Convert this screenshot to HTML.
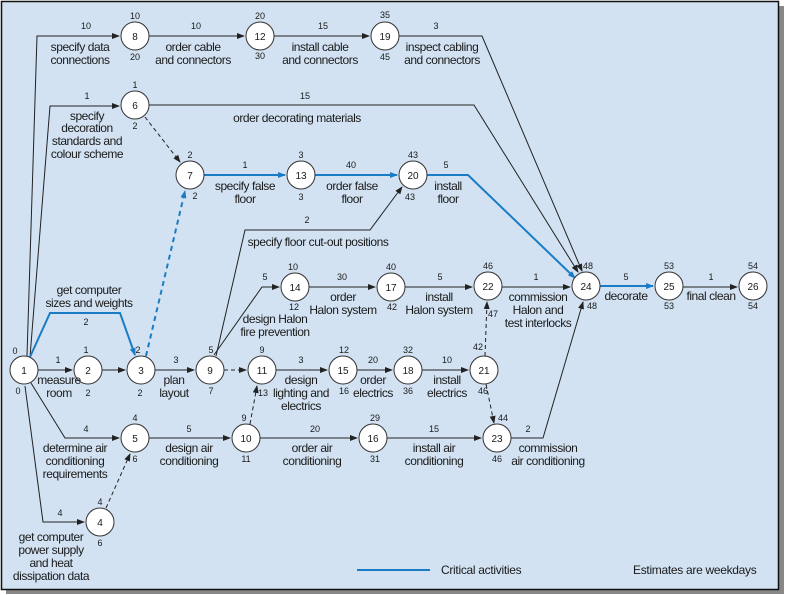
<!DOCTYPE html>
<html><head><meta charset="utf-8"><style>
body{margin:0;background:#fff;}
svg{display:block;font-family:"Liberation Sans",Arial,sans-serif;}
.l{font-size:12px;fill:#1a1a1a;text-anchor:middle;letter-spacing:-0.45px;}
.n{font-size:9px;fill:#1a1a1a;text-anchor:middle;}
.c{font-size:10px;fill:#1a1a1a;text-anchor:middle;}
</style></head><body>
<svg width="786" height="595" viewBox="0 0 786 595">
<defs>
<marker id="a" markerWidth="8" markerHeight="6" refX="7" refY="3" orient="auto" markerUnits="userSpaceOnUse"><path d="M0,0L8,3L0,6z" fill="#222"/></marker>
<marker id="b" markerWidth="8" markerHeight="6" refX="7" refY="3" orient="auto" markerUnits="userSpaceOnUse"><path d="M0,0L8,3L0,6z" fill="#1a7cc4"/></marker>
</defs>
<rect x="6" y="6" width="778" height="588" fill="#888"/>
<rect x="1.5" y="1.5" width="777" height="588" fill="#d2e2f2" stroke="#111" stroke-width="1.5"/>
<g fill="none" stroke="#222" stroke-width="1">
<polyline points="27,356 37,36 119,36" marker-end="url(#a)"/>
<polyline points="30,357 50,106 119,106" marker-end="url(#a)"/>
<polyline points="31,383 65,438 119,438" marker-end="url(#a)"/>
<polyline points="25,386 43,522 84,522" marker-end="url(#a)"/>
<line x1="38" y1="370" x2="72" y2="370" marker-end="url(#a)"/>
<line x1="102" y1="370" x2="125" y2="370" marker-end="url(#a)"/>
<line x1="155" y1="370" x2="194" y2="370" marker-end="url(#a)"/>
<line x1="149" y1="36" x2="244" y2="36" marker-end="url(#a)"/>
<line x1="274" y1="36" x2="369" y2="36" marker-end="url(#a)"/>
<polyline points="399,36 482,36 582,271" marker-end="url(#a)"/>
<polyline points="149,105 474,105 578,272" marker-end="url(#a)"/>
<polyline points="216,356 245,230 370,230 402,187" marker-end="url(#a)"/>
<polyline points="214,355 262,287 279,287" marker-end="url(#a)"/>
<line x1="309" y1="287" x2="375" y2="287" marker-end="url(#a)"/>
<line x1="405" y1="287" x2="472" y2="287" marker-end="url(#a)"/>
<line x1="502" y1="287" x2="570" y2="287" marker-end="url(#a)"/>
<line x1="683" y1="287" x2="737" y2="287" marker-end="url(#a)"/>
<line x1="276" y1="370" x2="327" y2="370" marker-end="url(#a)"/>
<line x1="357" y1="370" x2="392" y2="370" marker-end="url(#a)"/>
<line x1="422" y1="370" x2="468" y2="370" marker-end="url(#a)"/>
<line x1="149" y1="438" x2="230" y2="438" marker-end="url(#a)"/>
<line x1="260" y1="438" x2="357" y2="438" marker-end="url(#a)"/>
<line x1="387" y1="438" x2="481" y2="438" marker-end="url(#a)"/>
<polyline points="511,438 543,438 583,302" marker-end="url(#a)"/>
<g stroke-dasharray="4,3">
<line x1="145" y1="117" x2="180" y2="162" marker-end="url(#a)"/>
<line x1="224" y1="370" x2="246" y2="370" marker-end="url(#a)"/>
<line x1="250" y1="424" x2="257" y2="386" marker-end="url(#a)"/>
<line x1="106" y1="508" x2="130" y2="454" marker-end="url(#a)"/>
<line x1="485" y1="356" x2="487" y2="302" marker-end="url(#a)"/>
<line x1="486" y1="384" x2="494" y2="423" marker-end="url(#a)"/>
</g>
</g>
<g fill="none" stroke="#1a7cc4" stroke-width="2">
<polyline points="30,357 50,313 120,313 135,355" marker-end="url(#b)"/>
<line x1="204" y1="175" x2="285" y2="175" marker-end="url(#b)"/>
<line x1="315" y1="175" x2="397" y2="175" marker-end="url(#b)"/>
<polyline points="427,175 468,175 575,278" marker-end="url(#b)"/>
<line x1="600" y1="286" x2="653" y2="286" marker-end="url(#b)"/>
<line x1="146" y1="356" x2="185" y2="191" stroke-dasharray="5,4" marker-end="url(#b)"/>
<line x1="357" y1="570" x2="430" y2="570"/>
</g>
<g fill="#fff" stroke="#333" stroke-width="1">
<circle cx="24" cy="370" r="14"/><circle cx="88" cy="370" r="14"/><circle cx="141" cy="370" r="14"/>
<circle cx="210" cy="370" r="14"/><circle cx="262" cy="370" r="14"/><circle cx="343" cy="370" r="14"/>
<circle cx="408" cy="370" r="14"/><circle cx="484" cy="370" r="14"/>
<circle cx="135" cy="36" r="14"/><circle cx="260" cy="36" r="14"/><circle cx="385" cy="36" r="14"/>
<circle cx="135" cy="105" r="14"/><circle cx="190" cy="175" r="14"/><circle cx="301" cy="175" r="14"/>
<circle cx="413" cy="175" r="14"/><circle cx="295" cy="287" r="14"/><circle cx="391" cy="287" r="14"/>
<circle cx="488" cy="286" r="14"/><circle cx="586" cy="286" r="14"/><circle cx="669" cy="286" r="14"/>
<circle cx="753" cy="286" r="14"/><circle cx="135" cy="438" r="14"/><circle cx="246" cy="438" r="14"/>
<circle cx="373" cy="438" r="14"/><circle cx="497" cy="438" r="14"/><circle cx="100" cy="522" r="14"/>
</g>
<g class="c">
<text x="24" y="374">1</text><text x="88" y="374">2</text><text x="141" y="374">3</text><text x="210" y="374">9</text>
<text x="262" y="374">11</text><text x="343" y="374">15</text><text x="408" y="374">18</text><text x="484" y="374">21</text>
<text x="135" y="40">8</text><text x="260" y="40">12</text><text x="385" y="40">19</text><text x="135" y="109">6</text>
<text x="190" y="179">7</text><text x="301" y="179">13</text><text x="413" y="179">20</text><text x="295" y="291">14</text>
<text x="391" y="291">17</text><text x="488" y="290">22</text><text x="586" y="290">24</text><text x="669" y="290">25</text>
<text x="753" y="290">26</text><text x="135" y="442">5</text><text x="246" y="442">10</text><text x="373" y="442">16</text>
<text x="497" y="442">23</text><text x="100" y="526">4</text>
</g>
<g class="n">
<text x="15" y="354">0</text><text x="18" y="394">0</text>
<text x="135" y="19">10</text><text x="135" y="60">20</text><text x="86" y="29">10</text><text x="196" y="29">10</text>
<text x="260" y="19">20</text><text x="260" y="59">30</text><text x="323" y="29">15</text>
<text x="385" y="18">35</text><text x="385" y="60">45</text><text x="436" y="29">3</text>
<text x="135" y="88">1</text><text x="135" y="129">2</text><text x="87" y="99">1</text><text x="305" y="99">15</text>
<text x="190" y="158">2</text><text x="195" y="199">2</text><text x="245" y="168">1</text>
<text x="301" y="158">3</text><text x="301" y="200">3</text><text x="351" y="168">40</text>
<text x="413" y="158">43</text><text x="410" y="200">43</text><text x="446" y="168">5</text>
<text x="307" y="223">2</text>
<text x="293" y="270">10</text><text x="294" y="310">12</text><text x="265" y="280">5</text><text x="342" y="280">30</text>
<text x="391" y="270">40</text><text x="392" y="310">42</text><text x="440" y="280">5</text>
<text x="488" y="269">46</text><text x="493" y="317">47</text><text x="536" y="280">1</text>
<text x="588" y="269">48</text><text x="592" y="309">48</text><text x="626" y="280">5</text>
<text x="669" y="269">53</text><text x="669" y="309">53</text><text x="711" y="280">1</text>
<text x="753" y="269">54</text><text x="753" y="309">54</text>
<text x="86" y="353">1</text><text x="88" y="396">2</text><text x="58" y="363">1</text>
<text x="138" y="353">2</text><text x="140" y="396">2</text><text x="86" y="325">2</text>
<text x="176" y="363">3</text><text x="211" y="353">5</text><text x="211" y="394">7</text>
<text x="262" y="353">9</text><text x="263" y="396">13</text><text x="301" y="363">3</text>
<text x="344" y="353">12</text><text x="344" y="394">16</text><text x="373" y="363">20</text>
<text x="408" y="353">32</text><text x="408" y="394">36</text><text x="447" y="363">10</text>
<text x="478" y="350">42</text><text x="483" y="394">46</text>
<text x="135" y="421">4</text><text x="135" y="462">6</text><text x="86" y="432">4</text><text x="189" y="432">5</text>
<text x="244" y="421">9</text><text x="246" y="462">11</text><text x="315" y="432">20</text>
<text x="375" y="421">29</text><text x="375" y="462">31</text><text x="434" y="432">15</text>
<text x="503" y="421">44</text><text x="497" y="462">46</text><text x="528" y="432">2</text>
<text x="100" y="505">4</text><text x="100" y="546">6</text><text x="60" y="516">4</text>
</g>
<g class="l">
<text x="80" y="51">specify data</text><text x="80" y="64">connections</text>
<text x="193" y="51">order cable</text><text x="193" y="64">and connectors</text>
<text x="320" y="51">install cable</text><text x="320" y="64">and connectors</text>
<text x="442" y="51">inspect cabling</text><text x="442" y="64">and connectors</text>
<text x="87" y="120">specify</text><text x="87" y="132">decoration</text><text x="87" y="145">standards and</text><text x="87" y="158">colour scheme</text>
<text x="297" y="122">order decorating materials</text>
<text x="245" y="190">specify false</text><text x="245" y="203">floor</text>
<text x="352" y="190">order false</text><text x="352" y="203">floor</text>
<text x="448" y="190">install</text><text x="448" y="203">floor</text>
<text x="318" y="246">specify floor cut-out positions</text>
<text x="89" y="294">get computer</text><text x="89" y="307">sizes and weights</text>
<text x="275" y="323">design Halon</text><text x="275" y="336">fire prevention</text>
<text x="343" y="301">order</text><text x="343" y="314">Halon system</text>
<text x="439" y="301">install</text><text x="439" y="314">Halon system</text>
<text x="538" y="301">commission</text><text x="538" y="314">Halon and</text><text x="538" y="327">test interlocks</text>
<text x="626" y="300">decorate</text><text x="711" y="300">final clean</text>
<text x="59" y="384">measure</text><text x="59" y="397">room</text>
<text x="174" y="384">plan</text><text x="174" y="397">layout</text>
<text x="301" y="384">design</text><text x="301" y="397">lighting and</text><text x="301" y="410">electrics</text>
<text x="373" y="384">order</text><text x="373" y="397">electrics</text>
<text x="447" y="384">install</text><text x="447" y="397">electrics</text>
<text x="75" y="452">determine air</text><text x="75" y="465">conditioning</text><text x="75" y="478">requirements</text>
<text x="189" y="452">design air</text><text x="189" y="465">conditioning</text>
<text x="312" y="452">order air</text><text x="312" y="465">conditioning</text>
<text x="434" y="452">install air</text><text x="434" y="465">conditioning</text>
<text x="548" y="452">commission</text><text x="548" y="465">air conditioning</text>
<text x="51" y="541">get computer</text><text x="51" y="554">power supply</text><text x="51" y="567">and heat</text><text x="51" y="580">dissipation data</text>
</g>
<text x="441" y="574" style="font-size:12px;fill:#1a1a1a;letter-spacing:-0.3px">Critical activities</text>
<text x="633" y="574" style="font-size:12px;fill:#1a1a1a;letter-spacing:-0.3px">Estimates are weekdays</text>
</svg>
</body></html>
